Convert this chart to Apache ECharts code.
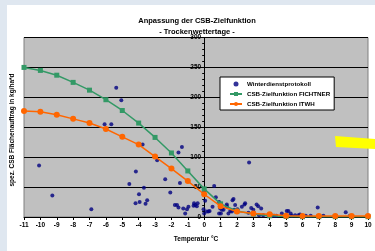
<!DOCTYPE html>
<html>
<head>
<meta charset="utf-8">
<script src="https://cdn.jsdelivr.net/npm/echarts@6/dist/echarts.min.js"></script>
<style>
  html, body { margin: 0; padding: 0; background: #fff; }
  #chart { width: 375px; height: 251px; }
</style>
</head>
<body>
<div id="chart"></div>
<script>
    // ---------- data ----------
    const temps = [-11, -10, -9, -8, -7, -6, -5, -4, -3, -2, -1, 0, 1, 2, 3, 4, 5, 6, 7, 8, 9, 10];
    const fichtner = [250, 245, 237, 225, 212, 196, 178, 157, 133, 107, 77, 47, 22, 10, 5, 2, 1, 0.5, 0.5, 0.5, 0.5, 0.5];
    const itwh = [177, 176, 171, 164, 157, 147, 134, 121, 101, 81, 60, 38, 18, 9, 6, 4.5, 2, 1.7, 1.7, 1.7, 1.7, 1.7];
    const protokoll = [
      [-5.37, 216], [-5.06, 195], [-6.08, 155], [-5.67, 155], [-3.76, 121], [-1.57, 108], [-1.36, 117],
      [-10.08, 86], [-9.27, 36], [-6.89, 13], [-4.57, 55], [-4.17, 76], [-3.98, 38], [-4.19, 23],
      [-3.94, 25], [-3.68, 49], [-3.48, 28], [-3.58, 22], [-2.87, 95], [-2.38, 63], [-2.07, 41],
      [-1.79, 20], [-1.66, 20], [-1.57, 16], [-1.48, 57], [-1.28, 14], [-1.16, 6], [-1.05, 13],
      [-0.96, 17], [-0.62, 23], [-0.55, 20], [-0.45, 18], [-0.65, 19], [-0.4, 23], [2.74, 91],
      [0.61, 52], [0, 42], [0.06, 27], [0, 6], [-0.04, 13], [0.16, 9], [0.33, 10], [0.26, 9],
      [0.51, 17], [0.71, 33], [0.91, 25], [0.91, 6], [0.98, 14], [1.02, 6], [1.08, 12], [1.18, 12],
      [1.38, 18], [1.38, 21], [1.48, 6], [1.59, 10], [1.69, 9], [1.73, 28], [1.79, 30], [1.83, 12],
      [1.89, 20], [2.03, 13], [2.3, 17], [2.46, 21], [2.5, 23], [2.7, 7], [2.87, 15], [3.0, 12],
      [3.2, 21], [3.3, 18], [3.48, 14], [3.35, 3], [3.6, 3], [4.0, 3], [4.2, 2], [4.3, 2], [4.4, 2],
      [4.74, 6], [5.04, 10], [5.14, 10], [5.28, 6], [5.35, 2], [5.55, 3], [5.75, 3], [5.85, 4],
      [6.2, 2], [6.5, 2], [6.93, 16], [7.28, 2], [8.64, 8], [8.9, 2]
    ];
    const seriesNames = ['Winterdienstprotokoll', 'CSB-Zielfunktion FICHTNER', 'CSB-Zielfunktion ITWH'];

    const FONT = 'Liberation Sans, Arial, sans-serif';
    const GRID_L = 24, GRID_R = 7, W = 375;
    const X_MIN = -11, X_MAX = 10;
    // y axis crosses the x axis at 0 °C
    const yOffset = -((0 - X_MIN) / (X_MAX - X_MIN)) * (W - GRID_L - GRID_R);

    const chart = echarts.init(document.getElementById('chart'), null, { renderer: 'canvas' });
    const pair = (xs, ys) => xs.map((x, i) => [x, ys[i]]);

    chart.setOption({
      animation: false,
      backgroundColor: '#ffffff',
      textStyle: { fontFamily: FONT },
      title: {
        text: 'Anpassung der CSB-Zielfunktion\n- Trockenwettertage -',
        left: 192, top: 10, textAlign: 'center',
        textStyle: { fontSize: 7.5, fontWeight: 'bold', color: '#000', lineHeight: 11, fontFamily: FONT }
      },
      grid: {
        left: GRID_L, right: GRID_R, top: 37.5, bottom: 34,
        show: true, backgroundColor: '#c0c0c0', borderColor: '#808080', borderWidth: 1
      },
      legend: {
        orient: 'vertical', left: 220, top: 77,
        backgroundColor: '#ffffff', borderColor: '#000', borderWidth: 1,
        padding: [4, 4, 3, 9], itemGap: 4, itemWidth: 12, itemHeight: 5,
        textStyle: { fontSize: 6.2, fontWeight: 'bold', color: '#000', fontFamily: FONT },
        data: seriesNames
      },
      xAxis: {
        type: 'value', min: X_MIN, max: X_MAX, interval: 1,
        name: 'Temperatur °C', nameLocation: 'middle', nameGap: 19,
        nameTextStyle: { fontSize: 6.5, fontWeight: 'bold', color: '#000' },
        axisLine: { onZero: false, lineStyle: { color: '#000', width: 1 } },
        axisTick: { show: true, length: 3, lineStyle: { color: '#000' } },
        axisLabel: { fontSize: 6.5, fontWeight: 'bold', color: '#000', margin: 5 },
        splitLine: { show: false }
      },
      yAxis: {
        type: 'value', min: 0, max: 300, interval: 50,
        position: 'left', offset: yOffset,
        axisLine: { show: true, onZero: false, lineStyle: { color: '#000', width: 1 } },
        axisTick: { show: true, length: 3, lineStyle: { color: '#000' } },
        minorTick: { show: true, splitNumber: 5, length: 2, lineStyle: { color: '#000' } },
        axisLabel: { fontSize: 6.5, fontWeight: 'bold', color: '#000', margin: 3 },
        splitLine: { show: true, lineStyle: { color: '#000', width: 1 } }
      },
      series: [
        {
          name: seriesNames[0], type: 'scatter', z: 2,
          symbol: 'circle', symbolSize: 4,
          itemStyle: { color: '#000080' },
          data: protokoll
        },
        {
          name: seriesNames[1], type: 'line', z: 3,
          symbol: 'rect', symbolSize: 5, showAllSymbol: true,
          lineStyle: { color: '#339966', width: 1.5 },
          itemStyle: { color: '#339966' },
          data: pair(temps, fichtner)
        },
        {
          name: seriesNames[2], type: 'line', z: 4,
          symbol: 'circle', symbolSize: 6, showAllSymbol: true,
          lineStyle: { color: '#ff6600', width: 1.5 },
          itemStyle: { color: '#ff6600' },
          data: pair(temps, itwh)
        }
      ],
      graphic: [
        // light blue page border (left and top strip)
        { type: 'rect', z: -10, shape: { x: 0, y: 0, width: 375, height: 251 }, style: { fill: '#dfe7f0' } },
        { type: 'rect', z: -9, shape: { x: 7, y: 5, width: 368, height: 246 }, style: { fill: '#ffffff' } },
        {
          type: 'text', z: 10, x: 12, y: 130, rotation: Math.PI / 2,
          style: {
            text: 'spez. CSB Flächenauftrag in kg/ha*d', fontSize: 6.5, fontWeight: 'bold',
            fill: '#000', fontFamily: FONT, textAlign: 'center', textVerticalAlign: 'middle'
          }
        },
        // yellow highlighter mark
        {
          type: 'polygon', z: 100,
          shape: { points: [[335, 136], [375, 139], [375, 149], [336, 147]] },
          style: { fill: '#ffff00' }
        }
      ]
    });
</script>
</body>
</html>
